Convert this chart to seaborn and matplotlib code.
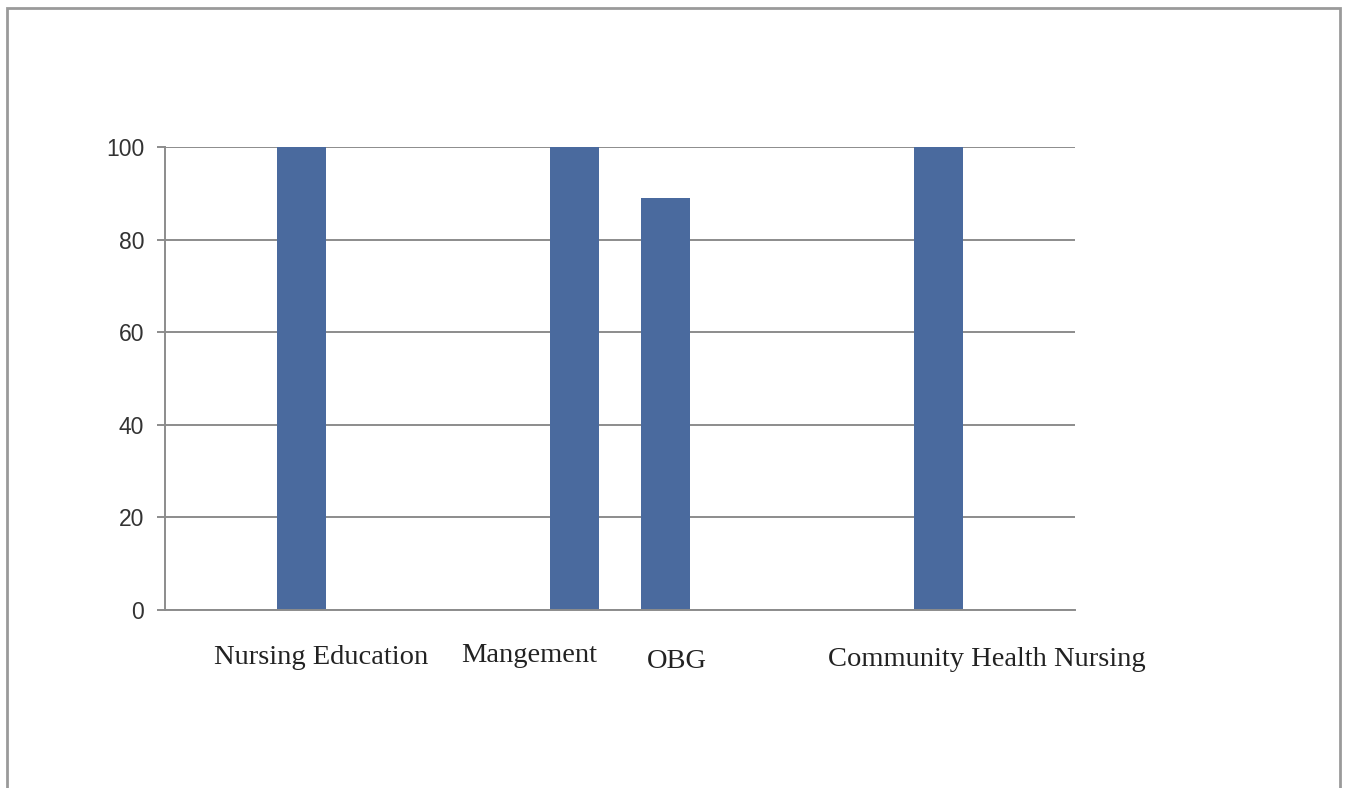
import numpy as np
import pandas as pd
import seaborn as sns
import matplotlib.pyplot as plt
from matplotlib.patches import Rectangle

# chart data: 10 category slots, only four have bars
slots = list(range(10))
bar_slots = [1, 4, 5, 8]
bar_values = [100, 100, 89, 100]
bar_labels = ["Nursing Education", "Mangement", "OBG", "Community Health Nursing"]
y_ticks = [0, 20, 40, 60, 80, 100]

sns.set_style("white")
plt.rcParams['font.family'] = ['Liberation Sans', 'DejaVu Sans']

df = pd.DataFrame({"slot": bar_slots, "value": bar_values, "label": bar_labels})

fig = plt.figure(figsize=(13.47, 7.88), dpi=100)
ax = fig.add_axes([0.1225, 0.2259, 0.6756, 0.5876])

sns.barplot(data=df, x="slot", y="value", order=slots, color="#4A6A9E",
            width=0.53, saturation=1, linewidth=0, ax=ax)

ax.set_ylim(0, 100)
ax.set_yticks(y_ticks)
ax.set_yticklabels([str(t) for t in y_ticks], fontsize=16.5, color="#333333")
ax.set_xticks([])
ax.set_xlabel("")
ax.set_ylabel("")

gray = "#8c8c8c"
ax.yaxis.grid(True, color=gray, linewidth=1.4)
ax.set_axisbelow(True)
for s in ["top", "right"]:
    ax.spines[s].set_visible(False)
ax.spines["left"].set_color(gray)
ax.spines["left"].set_linewidth(1.4)
ax.spines["bottom"].set_color(gray)
ax.spines["bottom"].set_linewidth(1.4)
ax.tick_params(axis="y", length=6, width=1.4, color=gray, pad=9, left=True)

# category labels set as separate text boxes below the plot
label_x = [1.22, 3.5, 5.12, 8.53]
label_y = [-10.2, -9.9, -11.2, -10.6]
for lx, ly, name in zip(label_x, label_y, bar_labels):
    ax.text(lx, ly, name, ha="center", va="center", fontsize=20.5,
            family=["Liberation Serif", "DejaVu Serif"], color="#222222",
            clip_on=False)

# outer chart border
fig.patches.append(Rectangle((0.0052, -0.05), 0.9896, 1.04, transform=fig.transFigure,
                             fill=False, edgecolor="#9a9a9a", linewidth=2))

fig.savefig("out.png", dpi=100)
